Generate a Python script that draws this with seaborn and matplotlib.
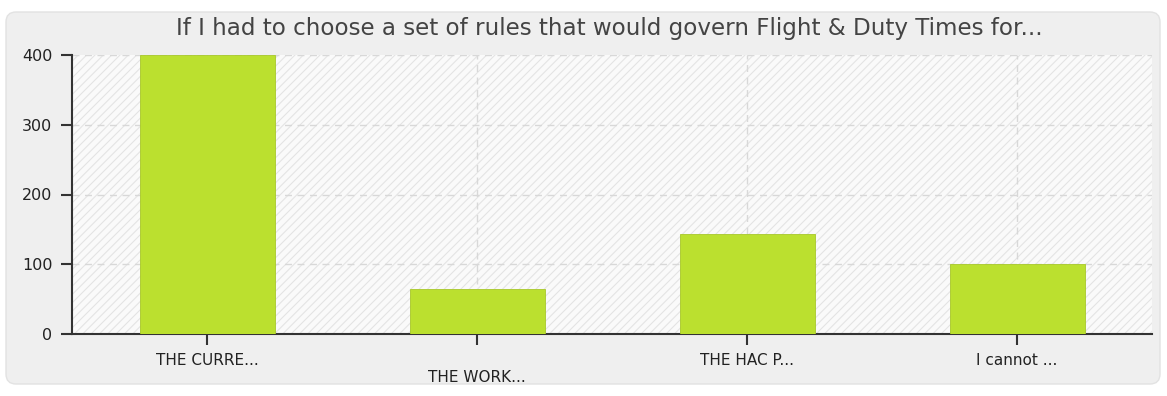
import matplotlib
matplotlib.use("Agg")
import matplotlib.pyplot as plt
import seaborn as sns
import pandas as pd
from matplotlib.patches import FancyBboxPatch, Rectangle

categories = ["THE CURRE...", "THE WORK...", "THE HAC P...", "I cannot ..."]
values = [400, 65, 143, 100]
title = "If I had to choose a set of rules that would govern Flight & Duty Times for..."
yticks = [0, 100, 200, 300, 400]

sns.set_theme(style="white")
plt.rcParams['font.family'] = ['DejaVu Sans']
plt.rcParams['hatch.color'] = "#e4e4e4"
plt.rcParams['hatch.linewidth'] = 0.8

fig = plt.figure(figsize=(11.67, 3.96), dpi=100)
fig.patch.set_facecolor("white")

# outer rounded panel on a background axes
bg = fig.add_axes([0, 0, 1, 1], zorder=-10)
bg.set_axis_off()
bg.set_xlim(0, 1167)
bg.set_ylim(396, 0)
bg.add_patch(FancyBboxPatch((6, 12), 1154, 372,
                            boxstyle="round,pad=0,rounding_size=10",
                            facecolor="#efefef", edgecolor="#e2e2e2", linewidth=1.0))

ax = fig.add_axes([72/1167, (396-334)/396, (1152-72)/1167, (334-55)/396], zorder=1)
ax.set_facecolor("#fafafa")
ax.add_patch(Rectangle((0, 0), 1, 1, transform=ax.transAxes, facecolor="#fafafa",
                       edgecolor="#e4e4e4", hatch="////", linewidth=0, zorder=0))

df = pd.DataFrame({"cat": categories, "val": values})
sns.barplot(data=df, x="cat", y="val", color="#bbe02f", width=0.5,
            saturation=1, edgecolor="#a8c82a", linewidth=0.6, ax=ax, zorder=3)

ax.set_xlim(-0.5, 3.5)
ax.set_ylim(0, 400)
ax.set_yticks(yticks)
ax.set_yticklabels([str(v) for v in yticks], fontsize=11.5, color="#222222")
ax.set_xticks(range(len(categories)))
ax.set_xticklabels([("\n" + c) if i == 1 else c for i, c in enumerate(categories)],
                   fontsize=11, color="#222222", linespacing=1.15)
ax.set_xlabel("")
ax.set_ylabel("")

ax.grid(True, axis="both", linestyle=(0, (5, 4)), color="#d8d8d8", linewidth=1.0, zorder=1)
ax.set_axisbelow(True)

for s in ["top", "right"]:
    ax.spines[s].set_visible(False)
for s in ["left", "bottom"]:
    ax.spines[s].set_visible(True)
    ax.spines[s].set_color("#333333")
    ax.spines[s].set_linewidth(1.5)
ax.tick_params(axis="both", which="both", direction="out", length=8, width=1.5,
               color="#333333", bottom=True, left=True, pad=6)

fig.text(609/1167, 1 - 28/396, title, ha="center", va="center",
         fontsize=16.6, color="#444444")

fig.savefig("out.png", dpi=100, facecolor="white")
